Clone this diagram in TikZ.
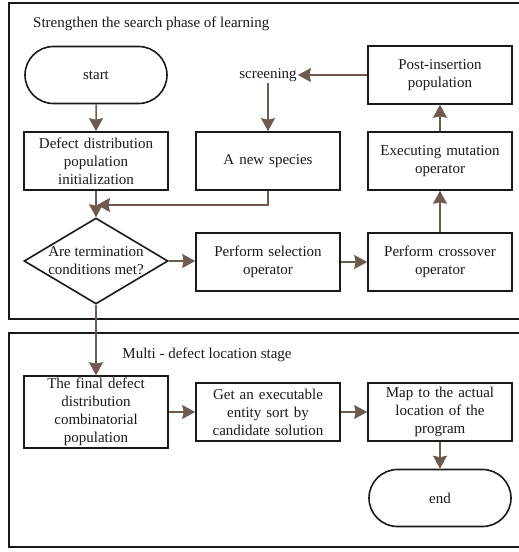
\documentclass[tikz,border=0pt]{standalone}
\usepackage{fontspec}
\setmainfont{Liberation Serif}
\usetikzlibrary{arrows.meta,shapes.misc,shapes.geometric}
\definecolor{FlowBrown}{HTML}{6E5A50}
\definecolor{InkDark}{HTML}{1A1A1A}
\tikzset{
  lab/.style={font=\fontsize{15}{18}\selectfont, text=InkDark, inner sep=1pt},
  procbox/.style={rectangle, draw=InkDark, line width=1.6pt, fill=white,
             minimum width=144pt, minimum height=58pt, text width=138pt,
             align=center, lab},
  termbox/.style={rounded rectangle, draw=InkDark, line width=1.6pt, fill=white,
             minimum width=144pt, minimum height=57pt, lab},
  decis/.style={diamond, draw=InkDark, line width=1.6pt, fill=white,
             minimum width=144pt, minimum height=86pt, inner sep=0pt},
  flow/.style={-{Stealth[length=13pt, width=14pt, inset=1.5pt]}, line width=1.5pt, draw=FlowBrown},
  frame/.style={draw=InkDark, line width=1.6pt},
}

\begin{document}
\begin{tikzpicture}[x=1pt, y=-1pt]
\useasboundingbox (0,0) rectangle (519,552);
\clip (0,0) rectangle (519,552);
% ---------------------------------------------------------------- frames
\draw[frame] (9,3) rectangle (530,319);
\draw[frame] (9,333) rectangle (530,547);
\node[lab, anchor=west] (toptitle) at (32,24) {Strengthen the search phase of learning};
\node[lab] (bottitle) at (207,355) {Multi - defect location stage};
% ---------------------------------------------------------------- search phase
\node[termbox] (start) at (96,75) {start};
\node[procbox] (init) at (96,161) {Defect distribution\\population\\initialization};
\node[decis, label={[lab, name=condtext, align=center]center:Are termination\\conditions met?}] (cond) at (96,261) {};
\node[lab] (screen) at (268,75) {screening};
\node[procbox] (newsp) at (268,161) {A new species};
\node[procbox] (sel) at (268,262) {Perform selection\\operator};
\node[procbox] (post) at (440,75) {Post-insertion\\population};
\node[procbox] (mut) at (440,161) {Executing mutation\\operator};
\node[procbox] (cross) at (440,262) {Perform crossover\\operator};
\coordinate (join) at (97,205);
% ---------------------------------------------------------------- location stage
\node[procbox, minimum height=72pt] (final) at (96,412) {The final defect\\distribution\\combinatorial\\population};
\node[procbox] (getent) at (268,412) {Get an executable\\entity sort by\\candidate solution};
\node[procbox] (mapto) at (440,412) {Map to the actual\\location of the\\program};
\node[termbox] (stop) at (440,498) {end};
% ---------------------------------------------------------------- connectors
\draw[flow] (start) -- (init);
\draw[flow] (init) -- (cond.north);
\draw[flow] (newsp.south) |- (join);
\draw[flow] (cond.east) -- (sel.west |- cond.east);
\draw[flow] (sel) -- (cross);
\draw[flow] (cross) -- (mut);
\draw[flow] (mut) -- (post);
\draw[flow] (post.west) -- (screen.east);
\draw[flow] (screen) -- (newsp);
\draw[flow] (cond.south) -- (final.north);
\draw[flow] (final.east |- getent.east) -- (getent.east -| getent.west);
\draw[flow] (getent) -- (mapto);
\draw[flow] (mapto) -- (stop);
\end{tikzpicture}
\end{document}
